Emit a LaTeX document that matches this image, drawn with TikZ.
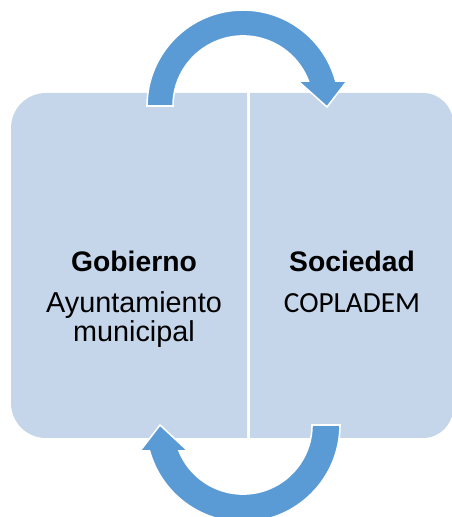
\documentclass[tikz,border=0pt]{standalone}
\usepackage{fontspec}
\setmainfont{Liberation Sans}
\newfontfamily\calibri{Carlito}
\usepackage{tikz}
\usetikzlibrary{positioning,calc}

\definecolor{boxblue}{RGB}{197,213,234}
\definecolor{arrowblue}{RGB}{91,155,213}

\tikzset{
  panel/.style={fill=boxblue, draw=none},
  cycarrow/.style={fill=arrowblue, draw=white, line width=1.2pt, line join=miter},
  title/.style={font=\fontsize{21.2}{24}\selectfont\bfseries, anchor=base, inner sep=0pt},
  body/.style={font=\fontsize{21.6}{24}\selectfont, anchor=base, inner sep=0pt}
}

\begin{document}
\begin{tikzpicture}[x=0.75pt, y=0.75pt]
\useasboundingbox (0,0) rectangle (452,517);

% the two panels
\fill[panel] (247,79) -- (46,79) arc (270:180:35) -- (11,389) arc (180:90:35) -- (247,424) -- cycle;
\fill[panel] (250,79) -- (423,79) arc (270:360:30) -- (453,394) arc (0:90:30) -- (250,424) -- cycle;

% texts
\node[title] (gob)  at (134,245) {Gobierno};
\node[body]  (ayun) at (134,204) {Ayuntamiento};
\node[body]  (muni) at (134,175) {municipal};
\node[title] (soc)  at (352,245) {Sociedad};
\node[body, font=\calibri\fontsize{21.9}{24}\selectfont] (copl) at (352,204) {COPLADEM};

% upper arrow
\filldraw[cycarrow] (147,411) arc (180:15.1:96) -- (347,436) -- (327,410) -- (298,436)
      -- (308.4,436) arc (20.9:180:70) -- cycle;

% lower arrow
\filldraw[cycarrow] (340,92) arc (0:-164.45:97) -- (140,66) -- (160,92) -- (188,66)
      -- (179.1,66) arc (-157.9:0:69) -- cycle;
\end{tikzpicture}
\end{document}
